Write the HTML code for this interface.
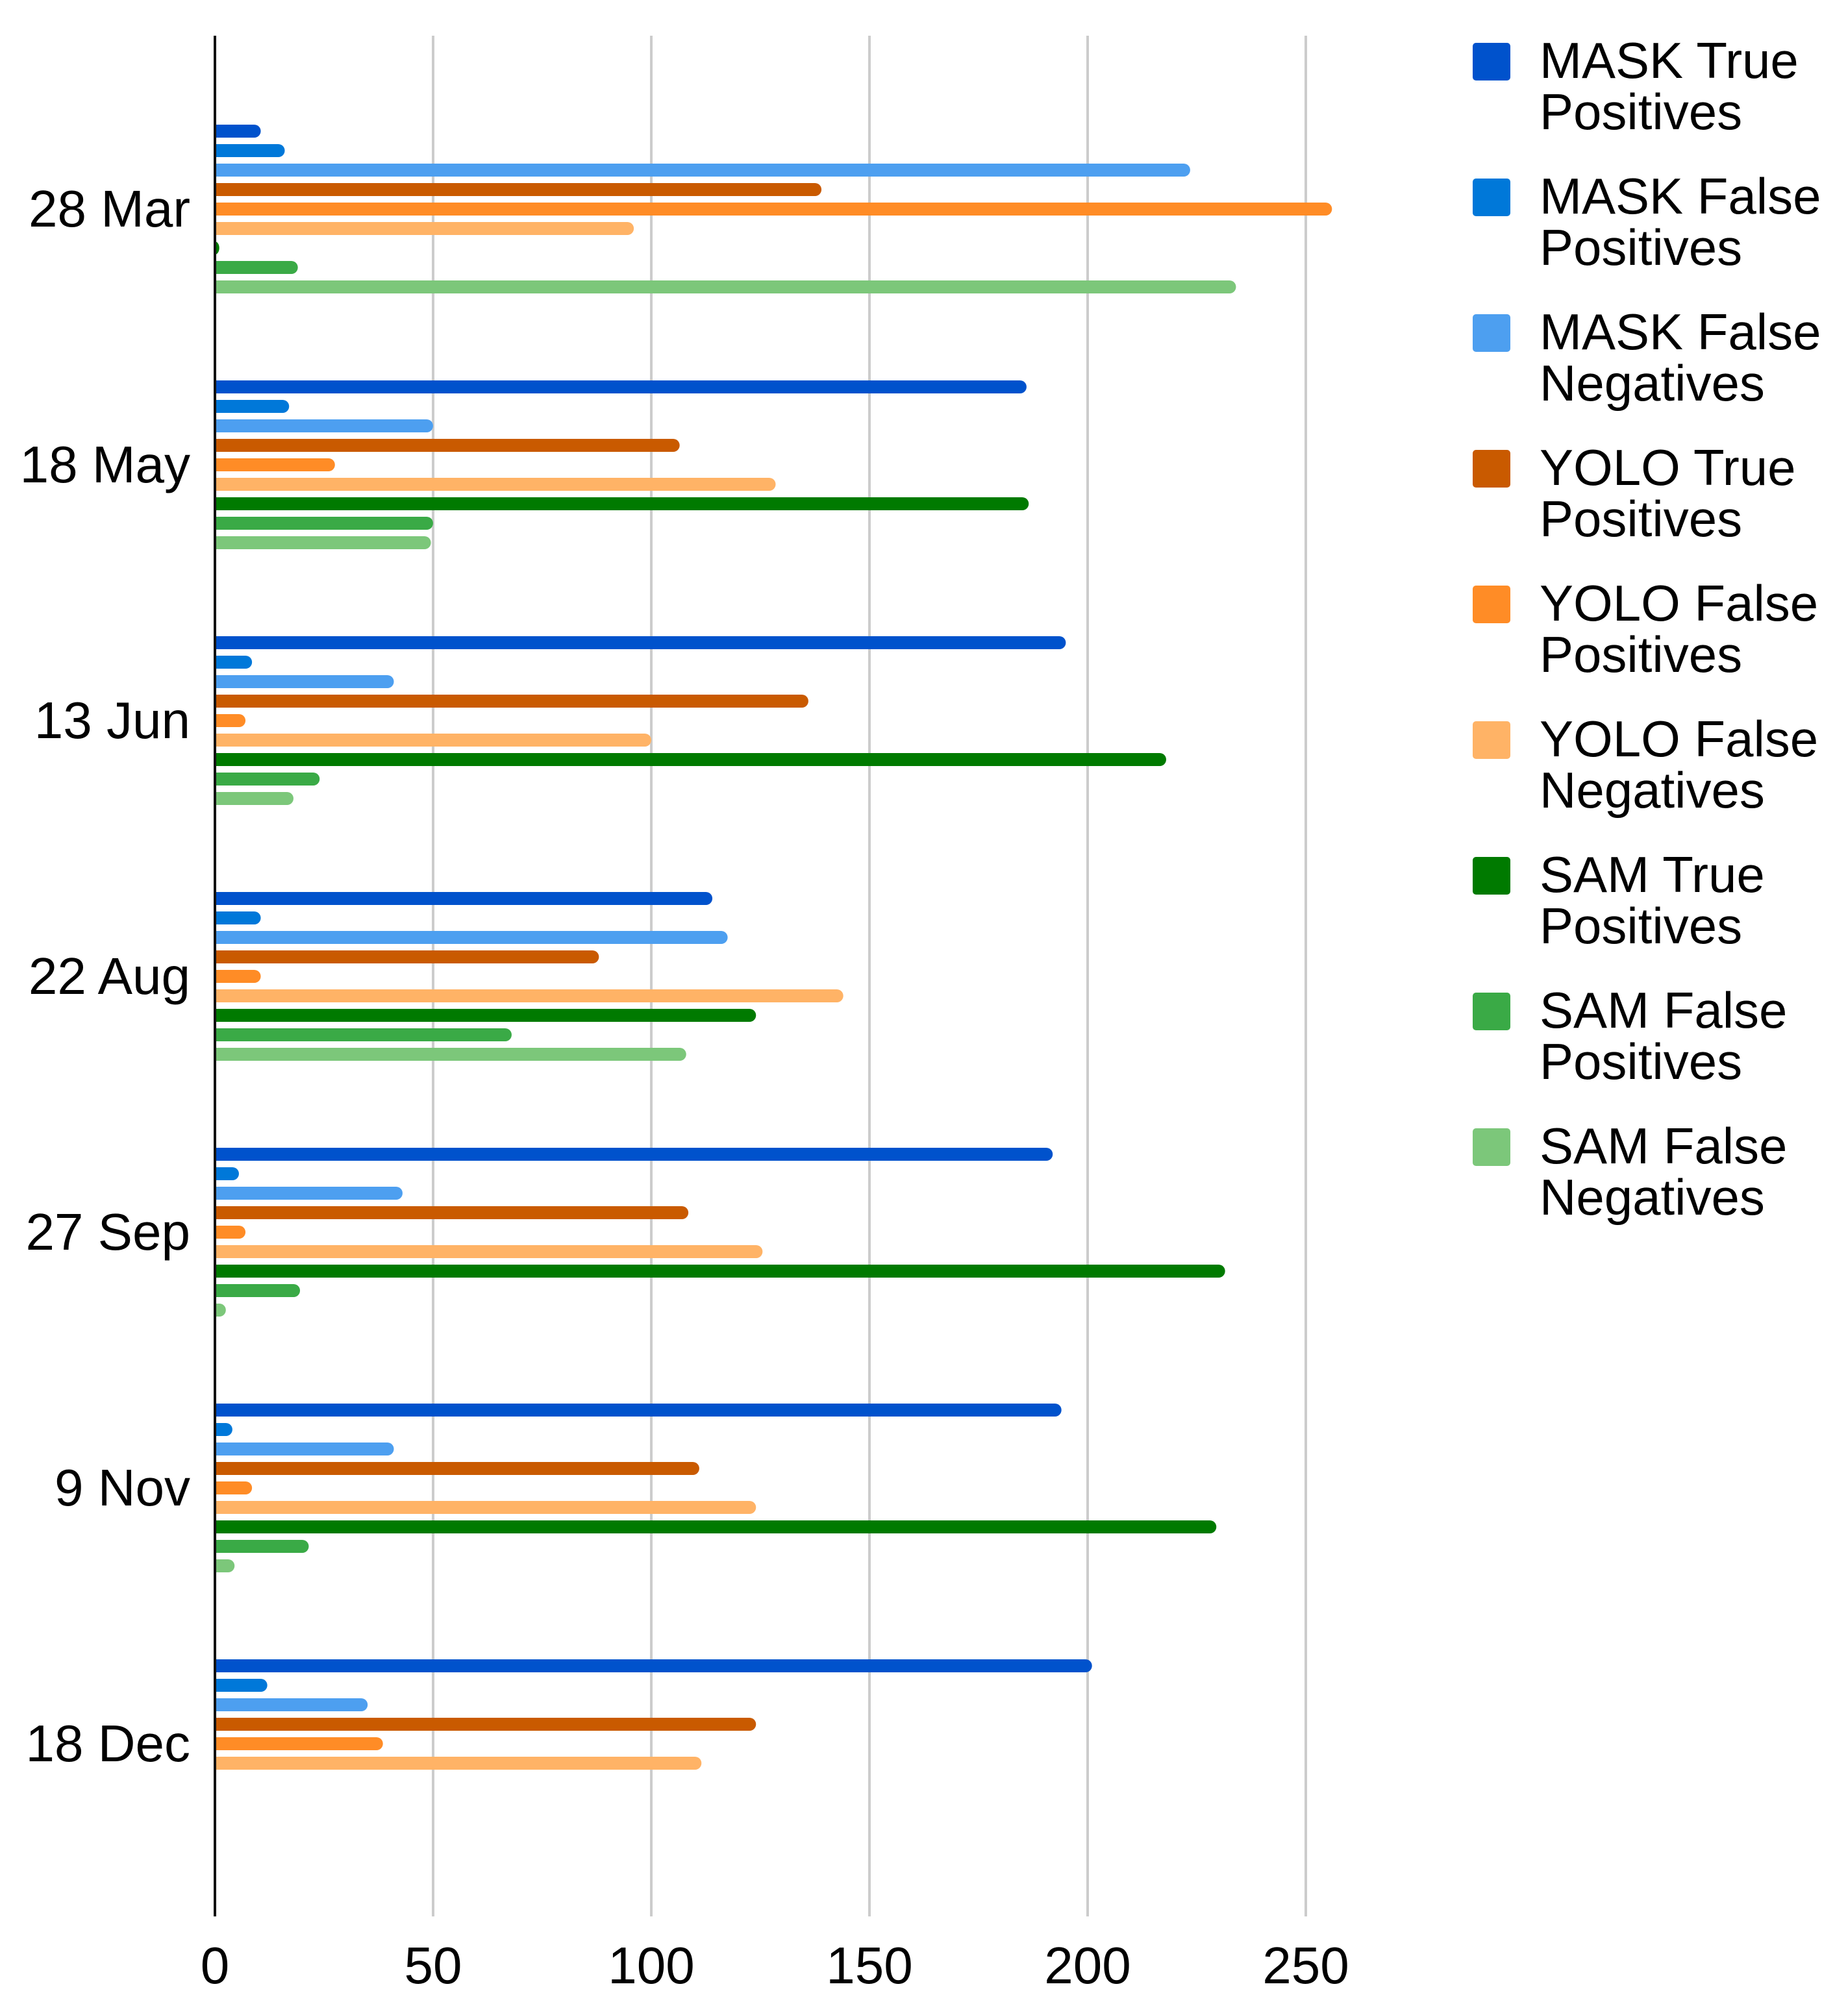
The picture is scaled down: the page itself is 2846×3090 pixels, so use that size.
<!DOCTYPE html>
<html><head><meta charset="utf-8"><style>
html,body{margin:0;padding:0;background:#fff;}
svg{display:block;font-family:"Liberation Sans",Arial,sans-serif;}
</style></head><body>
<svg id="chart" width="2846" height="3090" viewBox="0 0 2846 3090" xmlns="http://www.w3.org/2000/svg">
<g id="grid"></g>
<g id="bars"></g>
<g id="yaxis"></g>
<g id="xaxis"></g>
<g id="legend"></g>
</svg>
<script>
const categories = ["28 Mar","18 May","13 Jun","22 Aug","27 Sep","9 Nov","18 Dec"];
const seriesNames = [["MASK True","Positives"],["MASK False","Positives"],["MASK False","Negatives"],["YOLO True","Positives"],["YOLO False","Positives"],["YOLO False","Negatives"],["SAM True","Positives"],["SAM False","Positives"],["SAM False","Negatives"]];
const colors = ["#0052cc","#0078d9","#4d9ff0","#c95a00","#ff8c26","#ffb366","#007a00","#3aaa46","#7cc77a"];
const maskTP = [10.5,186,195,114,192,194,201];
const maskFP = [16,17,8.5,10.5,5.5,4,12];
const maskFN = [223.5,50,41,117.5,43,41,35];
const yoloTP = [139,106.5,136,88,108.5,111,124];
const yoloFP = [256,27.5,7,10.5,7,8.5,38.5];
const yoloFN = [96,128.5,100,144,125.5,124,111.5];
const samTP = [1,186.5,218,124,231.5,229.5,0];
const samFP = [19,50,24,68,19.5,21.5,0];
const samFN = [234,49.5,18,108,2.5,4.5,0];
const xTicks = [0,50,100,150,200,250];

const series = [maskTP,maskFP,maskFN,yoloTP,yoloFP,yoloFN,samTP,samFP,samFN];
const NS = "http://www.w3.org/2000/svg";
const X0 = 331, PX = 6.72, TOP = 55, BOT = 2952;
const G0 = 322, GSTEP = 394, BSTEP = 30, BH = 20;
function xs(v){ return X0 + v*PX; }
function ys(ci, si){ return G0 + ci*GSTEP + (si-4)*BSTEP; }
function mk(tag, attrs, parent){ const e=document.createElementNS(NS,tag); for(const k in attrs) e.setAttribute(k,attrs[k]); parent.appendChild(e); return e; }

const grid = document.getElementById('grid');
xTicks.forEach(t=>{
  if(t===0) return;
  const l = mk('line',{x1:xs(t),x2:xs(t),y1:TOP,y2:BOT,stroke:'#cccccc','stroke-width':4},grid);
  
  
});

const bars = document.getElementById('bars');
series.forEach((arr,si)=>{
  arr.forEach((v,ci)=>{
    if(v<=0) return;
    const w = v*PX, y = ys(ci,si)-BH/2, r = Math.min(BH/2, w);
    const x1 = X0, x2 = X0 + w;
    const d = `M${x1},${y} L${x2-r},${y} A${r},${BH/2} 0 0 1 ${x2-r},${y+BH} L${x1},${y+BH} Z`;
    const p = mk('path',{d:d,fill:colors[si]},bars);
    
    
  });
});

const yaxis = document.getElementById('yaxis');
const axl = mk('line',{x1:X0,x2:X0,y1:TOP,y2:BOT,stroke:'#111','stroke-width':4},yaxis);


categories.forEach((c,ci)=>{
  const t = mk('text',{x:293,y:G0+ci*GSTEP+27,'text-anchor':'end','font-size':80,fill:'#000'},yaxis);
  t.textContent = c;
  
  
});

const xaxis = document.getElementById('xaxis');
xTicks.forEach(v=>{
  const t = mk('text',{x:xs(v),y:3055,'text-anchor':'middle','font-size':80,fill:'#000'},xaxis);
  t.textContent = v;
  
  
});

const legend = document.getElementById('legend');
seriesNames.forEach((n,si)=>{
  const g = mk('g',{},legend);
  
  
  const base = 120 + si*209;
  mk('rect',{x:2268,y:base-54,width:58,height:58,rx:5,fill:colors[si]},g);
  const t1 = mk('text',{x:2371,y:base,'font-size':78,fill:'#000'},g); t1.textContent=n[0];
  const t2 = mk('text',{x:2371,y:base+79,'font-size':78,fill:'#000'},g); t2.textContent=n[1];
});
</script>
</body></html>
